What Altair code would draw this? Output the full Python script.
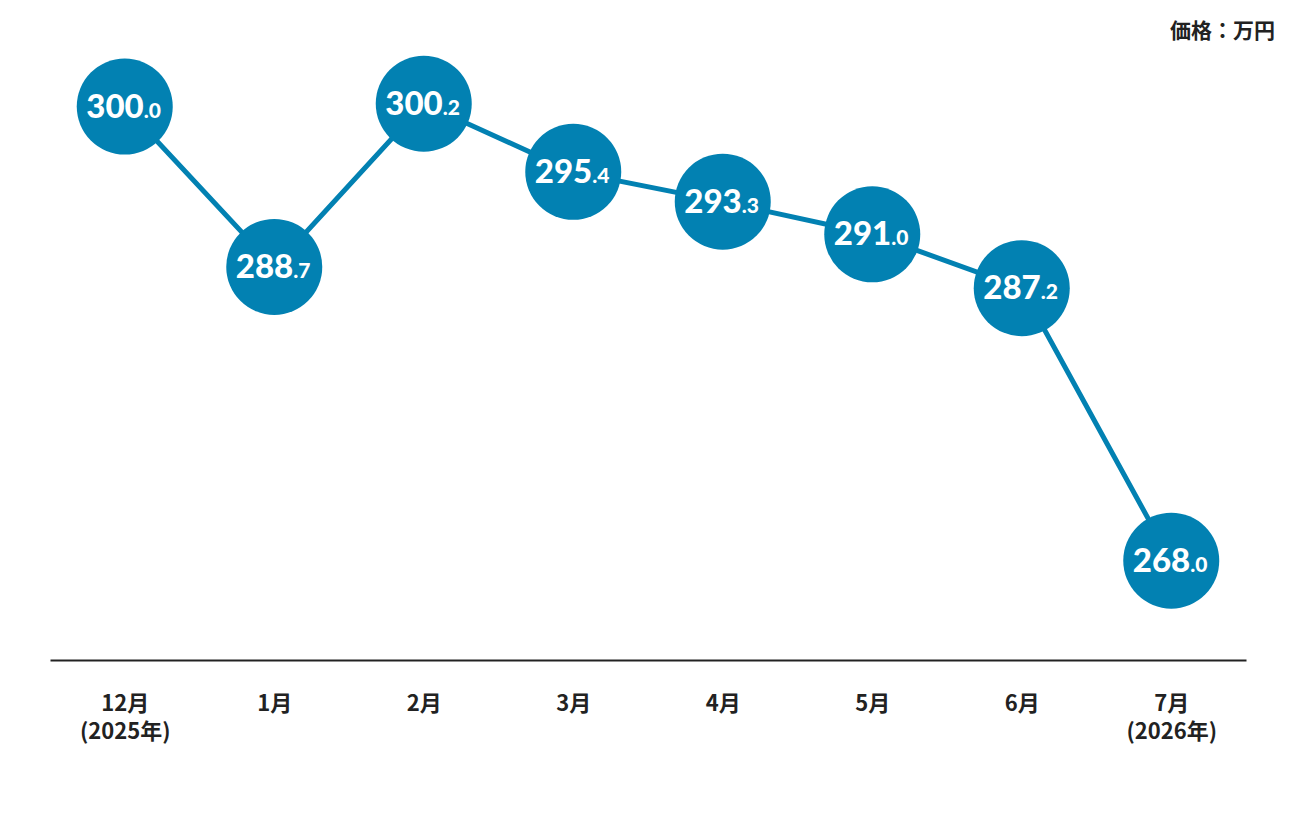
import altair as alt
import pandas as pd

months = ["12月\n(2025年)", "1月", "2月", "3月", "4月", "5月", "6月", "7月\n(2026年)"]
values = [300.0, 288.7, 300.2, 295.4, 293.3, 291.0, 287.2, 268.0]
unit_label = "価格：万円"

main_parts = [f"{v:.1f}".split(".")[0] for v in values]
dec_parts = ["." + f"{v:.1f}".split(".")[1] for v in values]

df = pd.DataFrame({"month": months, "value": values, "main": main_parts, "dec": dec_parts})

BLUE = "#0281b2"
DARK = "#222222"

x = alt.X(
    "month:N",
    sort=months,
    scale=alt.Scale(type="point", padding=0.5),
    axis=alt.Axis(
        title=None,
        labelAngle=0,
        ticks=False,
        grid=False,
        domainColor=DARK,
        domainWidth=2,
        labelFont="Noto Sans CJK JP",
        labelFontWeight="bold",
        labelFontSize=22,
        labelColor=DARK,
        labelPadding=33,
        labelLineHeight=28,
        labelBaseline="top",
        labelExpr="split(datum.label, '\\n')",
    ),
)
y = alt.Y("value:Q", scale=alt.Scale(domain=[261, 306.1], zero=False, nice=False), axis=None)

base = alt.Chart(df).encode(x=x, y=y)

line = base.mark_line(color=BLUE, strokeWidth=5)
dots = base.mark_circle(color=BLUE, size=9216, opacity=1)
main_text = base.mark_text(
    align="right", baseline="alphabetic", dx=19, dy=11,
    font="Lato", fontWeight=900, fontSize=33, color="white"
).encode(text="main:N")
dec_text = base.mark_text(
    align="left", baseline="alphabetic", dx=19, dy=11,
    font="Lato", fontWeight=900, fontSize=21, color="white"
).encode(text="dec:N")

unit = alt.Chart(pd.DataFrame({"t": [unit_label]})).mark_text(
    align="right", baseline="middle", font="Noto Sans CJK JP", fontWeight="bold",
    fontSize=21, color=DARK
).encode(x=alt.value(1225), y=alt.value(11.5), text="t:N")

chart = alt.layer(line, dots, main_text, dec_text, unit).properties(
    width=1196,
    height=640,
    padding={"left": 42, "top": 12, "right": 42, "bottom": 100},
    autosize=alt.AutoSizeParams(type="none"),
).configure_view(stroke=None)

chart.save("out.html", embed_options={"renderer": "svg", "actions": False})
